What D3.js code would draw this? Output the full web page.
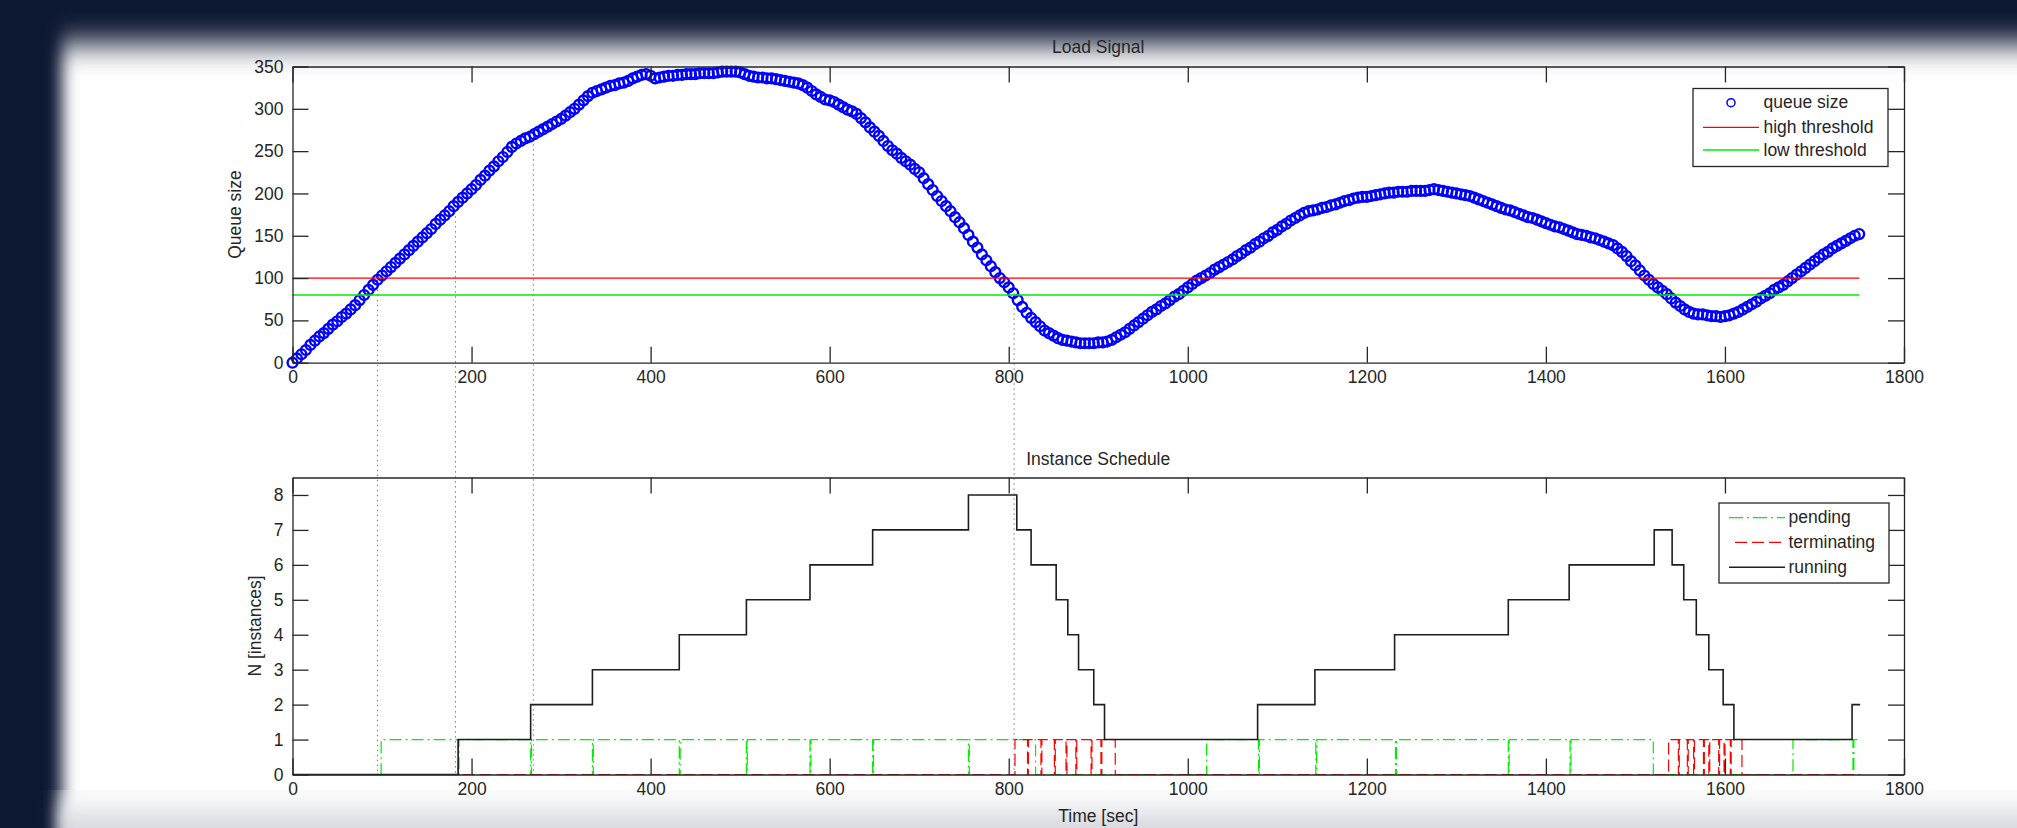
<!doctype html>
<html lang="en">
<head>
<meta charset="utf-8">
<title>Load Signal and Instance Schedule</title>
<script src="https://cdn.jsdelivr.net/npm/d3@7"></script>
<style>
  html, body { margin: 0; padding: 0; background: #0c1731; overflow: hidden; }
  svg { display: block; }
  text { font-family: "Liberation Sans", Arial, sans-serif; fill: #262626; }
</style>
</head>
<body>
<div id="chart"></div>
<script>
const queueStep = 5;
const queueValues = [
  0, 5, 10, 15, 21, 26, 31, 35, 40, 45, 49, 54, 58, 63, 68, 74, 80, 86, 92, 98,
  103, 108, 113, 118, 123, 128, 133, 138, 143, 148, 153, 158, 164, 169, 174, 179, 185, 190, 195, 200,
  205, 210, 216, 221, 227, 232, 238, 243, 249, 255, 259, 262, 265, 267, 270, 273, 276, 279, 282, 285,
  288, 292, 296, 300, 305, 310, 315, 319, 321, 323, 325, 327, 328, 330, 331, 333, 336, 338, 340, 341,
  339, 336, 337, 338, 339, 339, 340, 340, 341, 341, 341, 342, 342, 342, 342, 343, 344, 344, 344, 344,
  343, 341, 339, 338, 337, 337, 336, 336, 335, 334, 333, 332, 331, 330, 328, 325, 321, 317, 314, 311,
  310, 308, 305, 302, 299, 297, 294, 289, 284, 278, 273, 268, 262, 256, 251, 247, 242, 238, 234, 229,
  225, 218, 211, 204, 197, 191, 185, 179, 172, 166, 159, 151, 143, 136, 128, 121, 114, 107, 100, 95,
  89, 82, 74, 66, 59, 53, 48, 43, 38, 35, 32, 29, 27, 26, 25, 24, 23, 23, 23, 23,
  24, 24, 25, 27, 30, 33, 36, 40, 44, 48, 52, 56, 60, 63, 67, 70, 74, 78, 81, 85,
  89, 93, 97, 100, 103, 106, 110, 113, 116, 119, 122, 126, 129, 133, 136, 140, 143, 147, 150, 154,
  157, 161, 164, 168, 171, 174, 177, 179, 180, 181, 183, 184, 186, 187, 189, 191, 192, 194, 195, 196,
  196, 197, 198, 199, 200, 201, 201, 202, 202, 202, 203, 203, 203, 203, 204, 205, 204, 203, 202, 201,
  200, 199, 198, 197, 195, 193, 191, 189, 187, 185, 183, 181, 180, 178, 176, 174, 172, 171, 169, 167,
  165, 163, 161, 160, 158, 156, 154, 152, 151, 150, 148, 147, 145, 143, 141, 139, 135, 131, 126, 120,
  115, 109, 103, 98, 93, 89, 85, 81, 76, 71, 67, 63, 60, 58, 57, 57, 56, 55, 55, 54,
  55, 56, 58, 60, 63, 66, 69, 72, 76, 79, 82, 86, 89, 92, 96, 100, 104, 108, 112, 116,
  120, 124, 128, 131, 135, 138, 141, 144, 147, 150, 152
];
const highThreshold = 100;
const lowThreshold = 80;

// instance counts: each entry is the time a new level starts
const runningTimes = [0, 185, 266, 335, 432, 507, 578, 648, 755, 809, 825, 853, 866, 878, 895, 907,
  1078, 1142, 1231, 1358, 1426, 1521, 1541, 1554, 1568, 1582, 1598, 1610, 1742, 1751];
const runningCounts = [0, 1, 2, 3, 4, 5, 6, 7, 8, 7, 6, 5, 4, 3, 2, 1,
  2, 3, 4, 5, 6, 7, 6, 5, 4, 3, 2, 1, 2, 2];

const pendingTimes = [0, 99, 185, 186, 266, 267, 335, 336, 432, 433, 507, 508, 578, 579, 648, 649,
  755, 756, 830, 1021, 1079, 1080, 1143, 1144, 1232, 1233, 1358, 1359, 1427, 1428, 1520, 1676,
  1743, 1744, 1751];
const pendingCounts = [0, 1, 0, 1, 0, 1, 0, 1, 0, 1, 0, 1, 0, 1, 0, 1,
  0, 1, 0, 1, 0, 1, 0, 1, 0, 1, 0, 1, 0, 1, 0, 1,
  0, 1, 1];

const terminatingTimes = [0, 807, 821, 822, 836, 837, 851, 852, 864, 865, 875, 876, 892, 893, 903, 904, 919,
  1537, 1548, 1549, 1558, 1559, 1565, 1566, 1576, 1577, 1582, 1583, 1593, 1594, 1599, 1600, 1606, 1607, 1619, 1751];
const terminatingCounts = [0, 1, 0, 1, 0, 1, 0, 1, 0, 1, 0, 1, 0, 1, 0, 1, 0,
  1, 0, 1, 0, 1, 0, 1, 0, 1, 0, 1, 0, 1, 0, 1, 0, 1, 0, 0];

// moments marked with dotted guide lines across both plots
const guideTimes = [95, 182, 269, 806];

const timeTicks = [0, 200, 400, 600, 800, 1000, 1200, 1400, 1600, 1800];
const queueTicks = [0, 50, 100, 150, 200, 250, 300, 350];
const countTicks = [0, 1, 2, 3, 4, 5, 6, 7, 8];

const w = 2017;
const h = 828;
const ink = "#262626";
const fontSize = 17.5;

const svg = d3.select("#chart").append("svg").attr("width", w).attr("height", h);

// slide-like page: white sheet with blurred edges on a dark frame
const defs = svg.append("defs");
defs.append("filter").attr("id", "soft").attr("x", "-10%").attr("y", "-15%")
  .attr("width", "120%").attr("height", "130%")
  .append("feGaussianBlur").attr("stdDeviation", "8 15");
const grad = defs.append("linearGradient").attr("id", "floor")
  .attr("x1", 0).attr("y1", 0).attr("x2", 0).attr("y2", 1);
grad.append("stop").attr("offset", "0%").attr("stop-color", "#ffffff");
grad.append("stop").attr("offset", "100%").attr("stop-color", "#b4b8c2");

svg.append("rect").attr("width", w).attr("height", h).attr("fill", "#0c1731");
svg.append("rect").attr("x", 62).attr("y", 44).attr("width", 2100).attr("height", 900)
  .attr("fill", "#ffffff").attr("filter", "url(#soft)");
svg.append("rect").attr("x", 58).attr("y", 798).attr("width", 2100).attr("height", 50)
  .attr("fill", "url(#floor)").attr("filter", "url(#soft)");

const x = d3.scaleLinear().domain([0, 1800]).range([292.5, 1904]);
const yTop = d3.scaleLinear().domain([0, 350]).range([362.7, 66.5]);
const yBot = d3.scaleLinear().domain([0, 8.5]).range([774.5, 477.5]);

const queueAt = t => queueValues[Math.round(t / queueStep)];
const lastTime = (queueValues.length - 1) * queueStep;

function styleAxis(g) {
  g.attr("font-size", fontSize).attr("font-family", "'Liberation Sans', Arial, sans-serif").attr("color", ink);
  g.select(".domain").attr("stroke-width", 1.3);
  g.selectAll(".tick line").attr("stroke-width", 1.3);
}

function drawFrame(yScale, yTicks) {
  const [y0, y1] = yScale.range();
  svg.append("g").attr("transform", `translate(0,${y0})`)
    .call(d3.axisBottom(x).tickValues(timeTicks).tickFormat(d3.format("d"))
      .tickSizeInner(-16).tickSizeOuter(0).tickPadding(8))
    .call(styleAxis);
  svg.append("g").attr("transform", `translate(0,${y1})`)
    .call(d3.axisTop(x).tickValues(timeTicks).tickSizeInner(-16).tickSizeOuter(0).tickFormat(""))
    .call(styleAxis);
  svg.append("g").attr("transform", `translate(${x.range()[0]},0)`)
    .call(d3.axisLeft(yScale).tickValues(yTicks).tickFormat(d3.format("d"))
      .tickSizeInner(-16).tickSizeOuter(0).tickPadding(9))
    .call(styleAxis);
  svg.append("g").attr("transform", `translate(${x.range()[1]},0)`)
    .call(d3.axisRight(yScale).tickValues(yTicks).tickSizeInner(-16).tickSizeOuter(0).tickFormat(""))
    .call(styleAxis);
}

// dotted guides go under the markers
svg.append("g").selectAll("line").data(guideTimes).enter().append("line")
  .attr("x1", d => x(d)).attr("x2", d => x(d))
  .attr("y1", d => yTop(queueAt(d))).attr("y2", yBot(0))
  .attr("stroke", "#7a7a7a").attr("stroke-width", 1).attr("stroke-dasharray", "1.5,3.5");

// load signal
svg.append("g").selectAll("circle").data(queueValues).enter().append("circle")
  .attr("cx", (d, i) => x(i * queueStep))
  .attr("cy", d => yTop(d))
  .attr("r", 4.9)
  .attr("fill", "none")
  .attr("stroke", "#0000ff")
  .attr("stroke-width", 2.4);

svg.append("line").attr("x1", x(0)).attr("x2", x(lastTime))
  .attr("y1", yTop(highThreshold)).attr("y2", yTop(highThreshold))
  .attr("stroke", "#ff0000").attr("stroke-width", 1.3);
svg.append("line").attr("x1", x(0)).attr("x2", x(lastTime))
  .attr("y1", yTop(lowThreshold)).attr("y2", yTop(lowThreshold))
  .attr("stroke", "#00ee00").attr("stroke-width", 1.3);

// instance schedule
const step = d3.line().x(d => x(d[0])).y(d => yBot(d[1])).curve(d3.curveStepAfter);

svg.append("path").datum(d3.zip(pendingTimes, pendingCounts)).attr("d", step)
  .attr("fill", "none").attr("stroke", "#00ee00").attr("stroke-width", 1.2)
  .attr("stroke-dasharray", "12,4,2,4");
svg.append("path").datum(d3.zip(terminatingTimes, terminatingCounts)).attr("d", step)
  .attr("fill", "none").attr("stroke", "#ff0000").attr("stroke-width", 1.2)
  .attr("stroke-dasharray", "12,5");
svg.append("path").datum(d3.zip(runningTimes, runningCounts)).attr("d", step)
  .attr("fill", "none").attr("stroke", "#1e1e1e").attr("stroke-width", 1.6);

drawFrame(yTop, queueTicks);
drawFrame(yBot, countTicks);

// titles and axis labels
const midX = (x.range()[0] + x.range()[1]) / 2;
svg.append("text").attr("x", midX).attr("y", 52.5).attr("text-anchor", "middle")
  .style("font-size", fontSize + "px").text("Load Signal");
svg.append("text").attr("x", midX).attr("y", 464.5).attr("text-anchor", "middle")
  .style("font-size", fontSize + "px").text("Instance Schedule");
svg.append("text").attr("x", midX).attr("y", 822).attr("text-anchor", "middle")
  .style("font-size", fontSize + "px").text("Time [sec]");
svg.append("text").attr("transform", `translate(241,${(yTop.range()[0] + yTop.range()[1]) / 2}) rotate(-90)`)
  .attr("text-anchor", "middle").style("font-size", fontSize + "px").text("Queue size");
svg.append("text").attr("transform", `translate(261,${(yBot.range()[0] + yBot.range()[1]) / 2}) rotate(-90)`)
  .attr("text-anchor", "middle").style("font-size", fontSize + "px").text("N [instances]");

// legends
function legend(left, top, width, height, rows) {
  const g = svg.append("g").attr("transform", `translate(${left},${top})`);
  g.append("rect").attr("width", width).attr("height", height)
    .attr("fill", "#ffffff").attr("stroke", ink).attr("stroke-width", 1.3);
  rows.forEach(r => {
    if (r.marker) {
      g.append("circle").attr("cx", 38).attr("cy", r.y).attr("r", 4)
        .attr("fill", "none").attr("stroke", r.color).attr("stroke-width", 1.5);
    } else {
      g.append("line").attr("x1", r.x1 || 10).attr("x2", 66).attr("y1", r.y).attr("y2", r.y)
        .attr("stroke", r.color).attr("stroke-width", r.width || 1.3)
        .attr("stroke-dasharray", r.dash || null);
    }
    g.append("text").attr("x", r.tx).attr("y", r.y + 5.5)
      .style("font-size", fontSize + "px").text(r.label);
  });
}

legend(1693, 88.5, 195, 78, [
  { label: "queue size", marker: true, color: "#0000ff", y: 14.2, tx: 70.5 },
  { label: "high threshold", color: "#ff0000", y: 38.8, tx: 70.5 },
  { label: "low threshold", color: "#00ee00", y: 61.5, tx: 70.5 }
]);
legend(1719, 503, 170, 80, [
  { label: "pending", color: "#00ee00", dash: "14,4,2,4", y: 14.7, tx: 69.5 },
  { label: "terminating", color: "#ff0000", dash: "12,5", x1: 16, y: 39.3, tx: 69.5 },
  { label: "running", color: "#1e1e1e", width: 1.6, y: 64.3, tx: 69.5 }
]);
</script>
</body>
</html>
